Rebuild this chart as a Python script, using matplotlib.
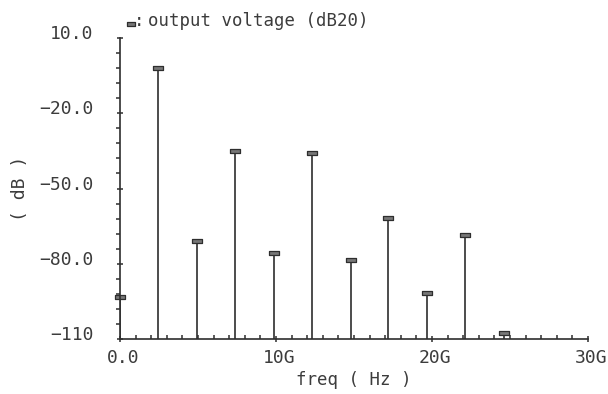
import matplotlib
matplotlib.use('Agg')
import matplotlib.pyplot as plt
import matplotlib.transforms as mtransforms
from matplotlib.lines import Line2D
from matplotlib.path import Path
import numpy as np

# harmonic frequencies (Hz) and levels (dB20)
freqs = [0.0, 2.43e9, 4.93e9, 7.36e9, 9.85e9, 12.3e9, 14.8e9, 17.2e9, 19.7e9, 22.1e9, 24.6e9]
levels = [-93.3, -1.9, -70.8, -35.1, -75.6, -35.9, -78.4, -61.9, -91.5, -68.7, -107.7]

x_ticks = [0, 10e9, 20e9, 30e9]
x_labels = ['0.0', '10G', '20G', '30G']
y_ticks = [-110, -80, -50, -20, 10]
y_labels = ['\u2212110', '\u221280.0', '\u221250.0', '\u221220.0', '10.0']

ink = '#2e2e2e'
txt = '#3c3c3c'
font = 'DejaVu Sans Mono'
fs = 13

# small flat box used for the stem heads
box = Path([(-4, -1.5), (4, -1.5), (4, 1.5), (-4, 1.5), (-4, -1.5)],
           [Path.MOVETO, Path.LINETO, Path.LINETO, Path.LINETO, Path.CLOSEPOLY])

fig = plt.figure(figsize=(6.08, 3.94), dpi=100)
ax = fig.add_axes([120 / 608, 1 - 339 / 394, 468 / 608, 301 / 394])

ax.vlines(freqs, -110, levels, color=ink, lw=1.2)
ax.plot(freqs, levels, ls='none', marker=box, ms=6.5,
        mfc='#777777', mec=ink, mew=0.9, clip_on=False)

ax.set_xlim(0, 30e9)
ax.set_ylim(-110, 10)

for s in ['top', 'right']:
    ax.spines[s].set_visible(False)
for s in ['left', 'bottom']:
    ax.spines[s].set_color(ink)
    ax.spines[s].set_linewidth(1.2)

ax.set_xticks(x_ticks)
ax.set_xticklabels(x_labels, fontfamily=font, fontsize=fs, color=txt)
ax.set_xticks(np.arange(0, 30e9 + 1, 1e9), minor=True)
ax.set_yticks(y_ticks)
ax.set_yticklabels(y_labels, fontfamily=font, fontsize=fs, color=txt)
ax.set_yticks(np.arange(-110, 11, 6), minor=True)

ax.tick_params(axis='x', which='major', direction='inout', length=5, width=1.1,
               color=ink, pad=4.5)
ax.tick_params(axis='x', which='minor', direction='in', length=2.8, width=1.1, color=ink)
ax.tick_params(axis='y', which='major', direction='inout', length=5, width=1.1,
               color=ink, pad=16.5)
ax.tick_params(axis='y', which='minor', direction='out', length=2.8, width=1.1, color=ink)

up = mtransforms.ScaledTranslation(0, 6 / 100, fig.dpi_scale_trans)
for lab in ax.get_yticklabels():
    lab.set_transform(lab.get_transform() + up)
right = mtransforms.ScaledTranslation(3 / 100, 0, fig.dpi_scale_trans)
for lab in ax.get_xticklabels():
    lab.set_transform(lab.get_transform() + right)

ax.set_xlabel('freq ( Hz )', fontfamily=font, fontsize=12.5, color=txt, va='center')
ax.xaxis.set_label_coords(0.5, -0.136)
ax.set_ylabel('( dB )', fontfamily=font, fontsize=13, color=txt, va='center')
ax.yaxis.set_label_coords(-100 / 468, 0.5)

# legend line at the top
fig.add_artist(Line2D([130.5 / 608], [1 - 23.5 / 394], ls='none', marker=box, ms=6,
                      mfc='#777777', mec=ink, mew=0.9))
fig.text(134 / 608, 1 - 21 / 394, ':', fontfamily=font,
         fontsize=12.5, color=txt, va='center', ha='left')
fig.text(148 / 608, 1 - 21 / 394, 'output voltage (dB20)', fontfamily=font,
         fontsize=12.5, color=txt, va='center', ha='left')

fig.savefig('out.png', dpi=100)
plt.close(fig)
